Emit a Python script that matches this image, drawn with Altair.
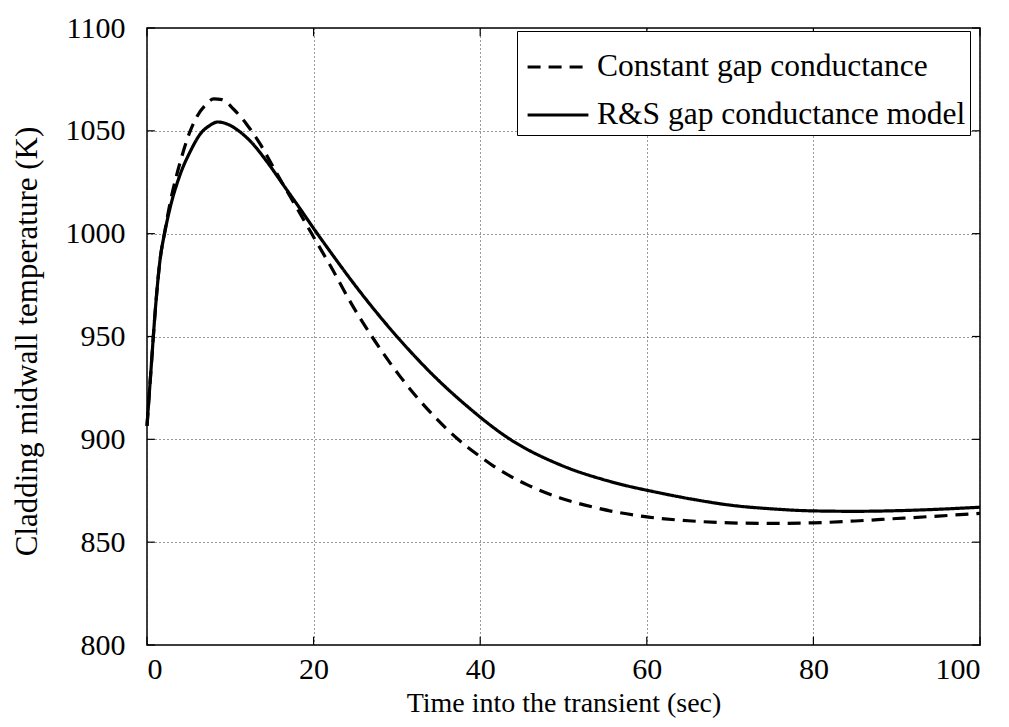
import altair as alt
import pandas as pd

# ---- data ----
series_names = ["Constant gap conductance", "R&S gap conductance model"]

t_const = [0, 0.5, 1, 1.5, 2.2, 2.8, 3.1, 4, 5.1, 6, 7, 8, 9, 10.4, 12, 13.6, 15, 16.4,
           17.8, 19.2, 20.6, 22, 24.6, 27, 30.4, 34.4, 37.2, 40.2, 41.6, 45.6, 49.6, 53.6,
           59.6, 65, 70, 75, 80, 85, 90, 95, 100]
T_const = [906.5, 935, 963, 985, 1002.5, 1015.5, 1021, 1035, 1049, 1057, 1062.5, 1065.5,
           1065.2, 1060.5, 1053, 1043.5, 1033.5, 1023.5, 1013.8, 1004, 994.2, 984.5, 965.5,
           950, 930.5, 911.5, 900.5, 891, 887, 878, 871.5, 867, 862.5, 860.4, 859.4, 859.1,
           859.4, 860.3, 861.5, 862.7, 864]

t_rs = [0, 0.5, 1, 1.5, 2.2, 2.8, 4, 5.2, 6.4, 7.5, 8.5, 9.5, 11, 12.4, 14.4, 16.4, 18.4,
        20.1, 22.4, 24.4, 26.4, 28, 30, 34.4, 38.4, 43.6, 49.6, 55.6, 61.6, 66, 70, 75,
        80, 85, 90, 95, 100]
T_rs = [906.5, 935, 963, 985, 1002, 1013, 1029, 1040, 1048.5, 1052.5, 1054.3, 1053.5, 1050,
        1045, 1035, 1023.5, 1012, 1002, 989, 978, 967.5, 959.5, 950, 931, 916.2, 900, 887.6,
        879.5, 873.9, 870.5, 868, 866.2, 865.2, 865, 865.3, 866, 867]

x_ticks = [0, 20, 40, 60, 80, 100]
y_ticks = [800, 850, 900, 950, 1000, 1050, 1100]

FONT = "Liberation Serif"

df = pd.concat([
    pd.DataFrame({"t": t_const, "T": T_const, "series": series_names[0]}),
    pd.DataFrame({"t": t_rs, "T": T_rs, "series": series_names[1]}),
])

x_scale = alt.Scale(domain=[0, 100], nice=False, zero=False)
y_scale = alt.Scale(domain=[800, 1100], nice=False, zero=False)

x_axis = alt.Axis(values=x_ticks, title="Time into the transient (sec)", format="d",
                  labelPadding=9, titleY=66, titleBaseline="alphabetic",
                  titleFontSize=28, labelFontSize=30)
y_axis = alt.Axis(values=y_ticks, title="Cladding midwall temperature (K)", format="d",
                  labelPadding=22, titleAngle=270, titleX=-111, titleY=313,
                  titleBaseline="alphabetic", titleAlign="center",
                  titleFontSize=31, labelFontSize=30)

lines = alt.Chart(df).mark_line(strokeWidth=3.2, color="black", interpolate="monotone").encode(
    x=alt.X("t:Q", scale=x_scale, axis=x_axis),
    y=alt.Y("T:Q", scale=y_scale, axis=y_axis),
    strokeDash=alt.StrokeDash(
        "series:N",
        scale=alt.Scale(domain=series_names, range=[[13, 8], [1, 0]]),
        legend=alt.Legend(title=None, orient="none", legendX=370, legendY=3,
                          symbolType="stroke", symbolSize=3700, symbolStrokeWidth=3,
                          symbolStrokeColor="black", symbolOffset=5,
                          labelFont=FONT, labelFontSize=31.5,
                          labelColor="black", labelOffset=7, labelLimit=600,
                          strokeColor="black", fillColor="white", padding=4,
                          rowPadding=-10, cornerRadius=0),
    ),
    detail="series:N",
)

# inward tick marks on all four sides (in data units)
xt_bottom = pd.DataFrame({"t": x_ticks, "T": [800] * 6, "T2": [804] * 6})
xt_top = pd.DataFrame({"t": x_ticks, "T": [1096] * 6, "T2": [1100] * 6})
yt_left = pd.DataFrame({"T": y_ticks, "t": [0] * 7, "t2": [0.95] * 7})
yt_right = pd.DataFrame({"T": y_ticks, "t": [99.05] * 7, "t2": [100] * 7})

def xticks(d):
    return alt.Chart(d).mark_rule(color="black", strokeWidth=1.2).encode(
        x=alt.X("t:Q", scale=x_scale, axis=x_axis),
        y=alt.Y("T:Q", scale=y_scale, axis=y_axis), y2="T2:Q")

def yticks(d):
    return alt.Chart(d).mark_rule(color="black", strokeWidth=1.2).encode(
        y=alt.Y("T:Q", scale=y_scale, axis=y_axis),
        x=alt.X("t:Q", scale=x_scale, axis=x_axis), x2="t2:Q")

chart = alt.layer(
    lines, xticks(xt_bottom), xticks(xt_top), yticks(yt_left), yticks(yt_right)
).properties(
    width=833, height=617,
    autosize=alt.AutoSizeParams(type="none"),
    padding={"left": 147, "top": 28, "right": 29, "bottom": 82},
    background="white",
).configure_view(
    stroke="black", strokeWidth=1.5
).configure_axis(
    domain=False, ticks=False, tickSize=0, grid=True, gridDash=[1, 3],
    gridColor="#333333", gridWidth=1, labelFont=FONT, titleFont=FONT,
    labelColor="black", titleColor="black", titleFontWeight="normal",
)

chart.save("out.html", embed_options={"renderer": "svg", "actions": False})
